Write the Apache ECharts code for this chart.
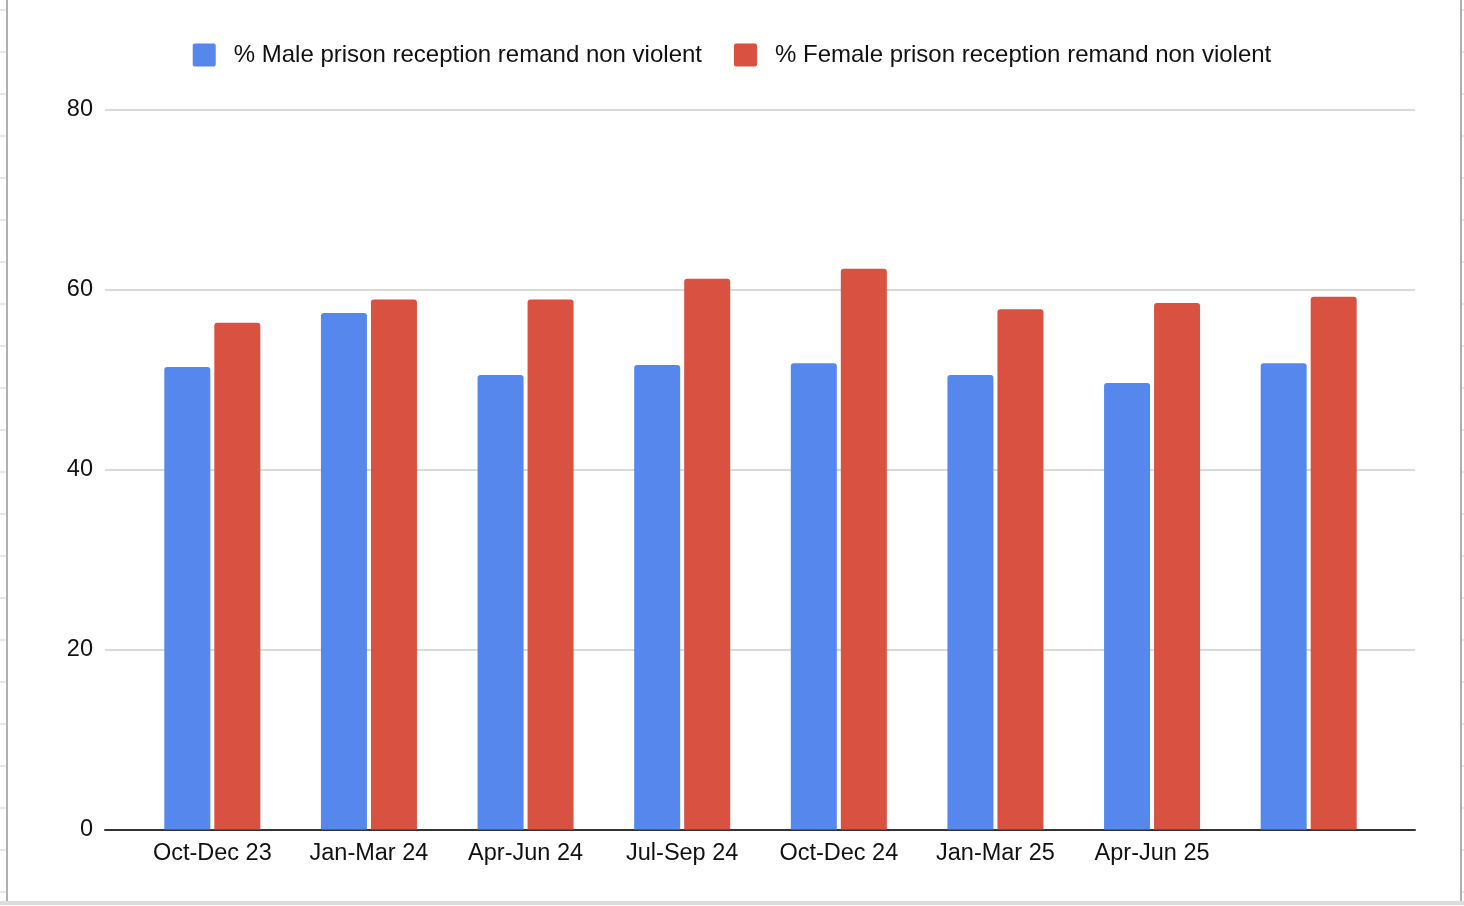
<!DOCTYPE html>
<html>
<head>
<meta charset="utf-8">
<script src="https://cdn.jsdelivr.net/npm/echarts@6/dist/echarts.min.js"></script>
<style>
html,body{margin:0;padding:0;background:#fff;}
#chart{width:1464px;height:906px;}
</style>
</head>
<body>
<div id="chart"></div>
<script>
var categories = ['Oct-Dec 23','Jan-Mar 24','Apr-Jun 24','Jul-Sep 24','Oct-Dec 24','Jan-Mar 25','Apr-Jun 25','Jul-Sep 25'];
var tickLabels = ['Oct-Dec 23','Jan-Mar 24','Apr-Jun 24','Jul-Sep 24','Oct-Dec 24','Jan-Mar 25','Apr-Jun 25',''];
var maleValues = [51.4, 57.4, 50.5, 51.6, 51.8, 50.5, 49.6, 51.8];
var femaleValues = [56.3, 58.9, 58.9, 61.2, 62.3, 57.8, 58.5, 59.2];
var yTicks = [0, 20, 40, 60, 80];
var seriesNames = ['% Male prison reception remand non violent', '% Female prison reception remand non violent'];

var chart = echarts.init(document.getElementById('chart'));
var font = 'Liberation Sans, Arial, sans-serif';

var frame = [];
frame.push({type:'line', shape:{x1:7,y1:0,x2:7,y2:902}, style:{stroke:'#b0b0b0', lineWidth:2}});
frame.push({type:'line', shape:{x1:1461,y1:0,x2:1461,y2:902}, style:{stroke:'#b0b0b0', lineWidth:2}});
frame.push({type:'line', shape:{x1:0,y1:903,x2:1464,y2:903}, style:{stroke:'#dcdcdc', lineWidth:4}});
for (var yy = 10; yy < 900; yy += 42) {
  frame.push({type:'line', shape:{x1:0,y1:yy,x2:6,y2:yy}, style:{stroke:'#d0d0d0', lineWidth:1}});
  frame.push({type:'line', shape:{x1:1462,y1:yy,x2:1464,y2:yy}, style:{stroke:'#d0d0d0', lineWidth:1}});
}

var squareIcon = 'path://M2,0 L21,0 Q23,0 23,2 L23,21 Q23,23 21,23 L2,23 Q0,23 0,21 L0,2 Q0,0 2,0 Z';

chart.setOption({
  animation: false,
  backgroundColor: '#fff',
  textStyle: {fontFamily: font},
  graphic: frame,
  legend: {
    top: 38,
    left: 'center',
    itemWidth: 23,
    itemHeight: 23,
    itemGap: 32,
    icon: squareIcon,
    textStyle: {fontSize: 24, color: '#111', fontFamily: font, padding:[0,0,0,13]},
    data: seriesNames
  },
  grid: [
    {left: 134, right: 77, top: 109.5, bottom: 76.5},
    {left: 105, right: 49, top: 109.5, bottom: 76.5}
  ],
  xAxis: [
    {
      type: 'category', gridIndex: 0, data: categories,
      axisLine: {show: false}, axisTick: {show: false},
      axisLabel: {
        fontSize: 23.5, color: '#111', margin: 12, fontFamily: font, interval: 0,
        formatter: function (v, i) { return tickLabels[i]; }
      }
    },
    {
      type: 'value', gridIndex: 1, min: 0, max: 1,
      axisLine: {show: true, lineStyle: {color: '#333', width: 2}},
      axisTick: {show: false}, axisLabel: {show: false}, splitLine: {show: false}
    }
  ],
  yAxis: [
    {type: 'value', gridIndex: 0, min: 0, max: 80, interval: 20, show: false, splitLine:{show:false}},
    {
      type: 'value', gridIndex: 1, min: yTicks[0], max: yTicks[yTicks.length-1], interval: 20,
      axisLine: {show: false}, axisTick: {show: false},
      axisLabel: {fontSize: 23.5, color: '#111', margin: 12, fontFamily: font},
      splitLine: {lineStyle: {color: '#cccccc', width: 1.5}}
    }
  ],
  series: [
    {
      name: seriesNames[0], type: 'bar', xAxisIndex: 0, yAxisIndex: 0,
      data: maleValues, barWidth: 46, barGap: '8.7%',
      itemStyle: {color: '#5587ec', borderRadius: [3,3,0,0]}
    },
    {
      name: seriesNames[1], type: 'bar', xAxisIndex: 0, yAxisIndex: 0,
      data: femaleValues, barWidth: 46, barGap: '8.7%',
      itemStyle: {color: '#d95140', borderRadius: [3,3,0,0]}
    }
  ]
});
</script>
</body>
</html>
